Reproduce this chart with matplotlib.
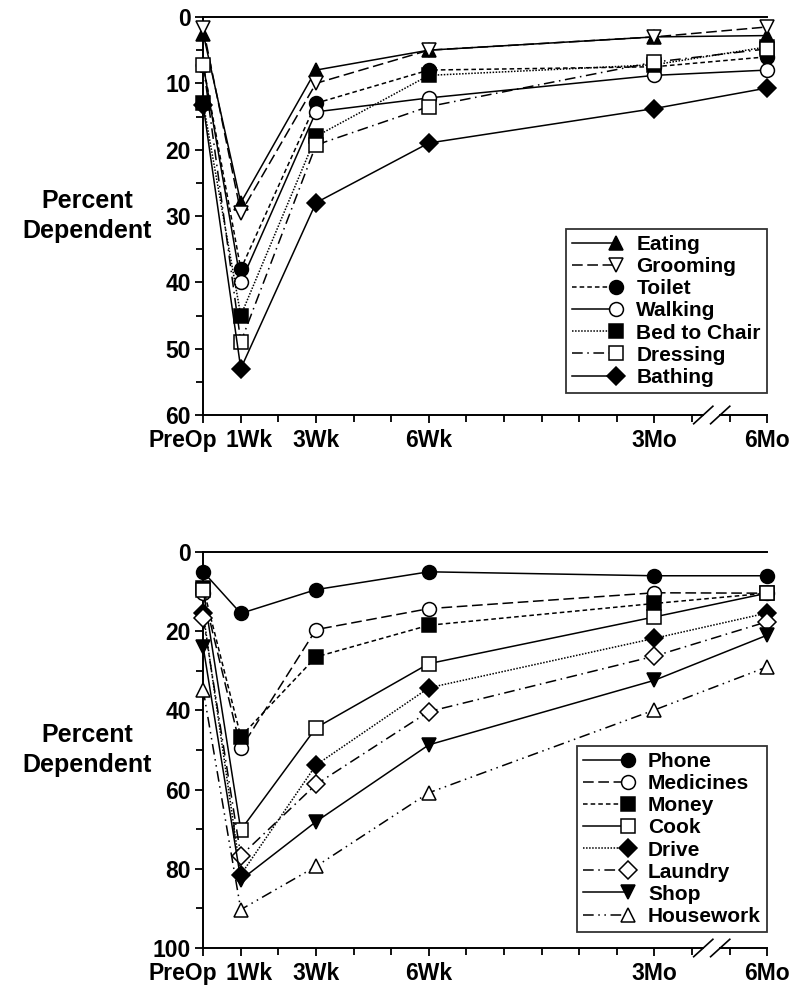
import numpy as np
import matplotlib
matplotlib.use("Agg")
import matplotlib.pyplot as plt
import matplotlib.transforms as mtransforms
from matplotlib.lines import Line2D
from matplotlib.legend_handler import HandlerLine2D

plt.rcParams['font.family'] = ['Liberation Sans', 'DejaVu Sans']
plt.rcParams['font.weight'] = 'bold'

# time points (weeks, 6Mo squeezed after the axis break)
x_pos = [0, 1, 3, 6, 12, 15]
x_labels = ['PreOp', '1Wk', '3Wk', '6Wk', '3Mo', '6Mo']

# top panel: ADL
adl_names = ['Eating', 'Grooming', 'Toilet', 'Walking', 'Bed to Chair', 'Dressing', 'Bathing']
eating = [2.5, 28, 8, 5, 3, 2.8]
grooming = [1.7, 29.5, 10, 5, 3, 1.5]
toilet = [7.2, 38, 13, 8, 7.5, 6]
walking = [7.2, 40, 14.3, 12.2, 8.8, 8]
bed_to_chair = [13, 45, 18, 8.8, 7.2, 4.5]
dressing = [7.2, 49, 19.3, 13.5, 6.8, 4.8]
bathing = [13.3, 53, 28, 19, 13.8, 10.7]
adl_vals = [eating, grooming, toilet, walking, bed_to_chair, dressing, bathing]

# bottom panel: IADL
iadl_names = ['Phone', 'Medicines', 'Money', 'Cook', 'Drive', 'Laundry', 'Shop', 'Housework']
phone = [5, 15.5, 9.5, 5, 6, 6]
medicines = [10.4, 49.6, 19.6, 14.3, 10.3, 10.4]
money = [9, 46.6, 26.5, 18.5, 13, 10.4]
cook = [9.6, 70.2, 44.4, 28.2, 16.4, 10.4]
drive = [15.5, 81.5, 53.8, 34.3, 21.8, 15.4]
laundry = [16.7, 76.7, 58.7, 40.3, 26.3, 17.6]
shop = [24, 82.8, 68.1, 48.7, 32.4, 21]
housework = [34.8, 90.3, 79.4, 60.8, 39.9, 29]
iadl_vals = [phone, medicines, money, cook, drive, laundry, shop, housework]

SOLID = '-'
LONG = (0, (7, 3))
SHORT = (0, (3, 2))
DOT = (0, (1, 1))
DASHDOT = (0, (7, 3, 1, 3))
DASHDOTDOT = (0, (7, 3, 1, 3, 1, 3))

# (marker, facecolor, linestyle)
adl_style = [('^', 'k', SOLID), ('v', 'w', LONG), ('o', 'k', SHORT), ('o', 'w', SOLID),
             ('s', 'k', DOT), ('s', 'w', DASHDOT), ('D', 'k', SOLID)]
iadl_style = [('o', 'k', SOLID), ('o', 'w', LONG), ('s', 'k', SHORT), ('s', 'w', SOLID),
              ('D', 'k', DOT), ('D', 'w', DASHDOT), ('v', 'k', SOLID), ('^', 'w', DASHDOTDOT)]


class MarkerAtEnd(HandlerLine2D):
    # line in the legend with the marker at its right end
    def create_artists(self, legend, orig_handle, xdescent, ydescent, width, height,
                       fontsize, trans):
        y = (height - ydescent) / 2
        x0 = -xdescent
        x1 = -xdescent + width - 7
        line = Line2D([x0, x1], [y, y])
        self.update_prop(line, orig_handle, legend)
        line.set_marker('None')
        mark = Line2D([x1], [y])
        self.update_prop(mark, orig_handle, legend)
        mark.set_linestyle('None')
        line.set_transform(trans)
        mark.set_transform(trans)
        return [line, mark]


def msize(m):
    return 9 if m == 'D' else 10


def panel(ax, names, vals, styles, ymax, major, minor, leg_y):
    for name, v, (m, fc, ls) in zip(names, vals, styles):
        ax.plot(x_pos, v, color='k', lw=1.1, ls=ls, marker=m, ms=msize(m),
                mfc=fc, mec='k', mew=1.1, label=name, clip_on=False, zorder=3)
    ax.set_xlim(0, 15)
    ax.set_ylim(ymax, 0)
    ax.spines['right'].set_visible(False)
    for s in ['left', 'top', 'bottom']:
        ax.spines[s].set_linewidth(1.4)
    ax.set_yticks(np.arange(0, ymax + 1, major))
    ax.set_yticks(np.arange(0, ymax + 1, minor), minor=True)
    ax.set_xticks(x_pos)
    ax.set_xticklabels(x_labels)
    ax.set_xticks(list(range(0, 14)) + [14, 15], minor=True)
    ax.tick_params(axis='both', which='major', direction='out', length=6, width=1.3)
    ax.tick_params(axis='both', which='minor', direction='out', length=5, width=1.3)
    ax.tick_params(axis='x', which='major', pad=4, labelsize=16.5)
    ax.tick_params(axis='y', which='major', pad=3, labelsize=16.5)
    for t in ax.get_xticklabels() + ax.get_yticklabels():
        t.set_fontweight('bold')
    # PreOp and 1Wk pushed apart as in the original
    xt = ax.get_xticklabels()
    xt[0].set_transform(xt[0].get_transform() +
                        mtransforms.ScaledTranslation(-0.2, 0, ax.figure.dpi_scale_trans))
    xt[1].set_transform(xt[1].get_transform() +
                        mtransforms.ScaledTranslation(0.08, 0, ax.figure.dpi_scale_trans))
    ax.text(-0.206, 0.5, 'Percent\nDependent', transform=ax.transAxes, ha='center',
            va='center', fontsize=18, fontweight='bold', linespacing=1.3)
    leg = ax.legend(loc='lower right', bbox_to_anchor=(1.0, leg_y), fontsize=15,
                    frameon=True, fancybox=False, edgecolor='k', handlelength=2.6,
                    handletextpad=0.5, labelspacing=0.15, borderpad=0.3,
                    borderaxespad=0, markerscale=1.15,
                    handler_map={Line2D: MarkerAtEnd()})
    leg.get_frame().set_linewidth(1.3)
    leg.set_zorder(5)
    # axis break marks
    xb1 = 13.3 / 15
    xb2 = 13.75 / 15
    ax.plot([xb1 + 0.005, xb2 - 0.005], [0, 0], color='w', lw=3,
            transform=ax.transAxes, clip_on=False, zorder=6)
    for xb in [xb1, xb2]:
        ax.plot([xb - 0.017, xb + 0.017], [-0.022, 0.022], color='k', lw=1.2,
                transform=ax.transAxes, clip_on=False, zorder=7)


fig = plt.figure(figsize=(8, 10), dpi=100)
ax1 = fig.add_axes([0.254, 0.585, 0.705, 0.398])
ax2 = fig.add_axes([0.254, 0.052, 0.705, 0.396])

panel(ax1, adl_names, adl_vals, adl_style, 60, 10, 5, 0.055)
panel(ax2, iadl_names, iadl_vals, iadl_style, 100, 20, 10, 0.04)

fig.savefig('out.png', dpi=100, facecolor='w')
